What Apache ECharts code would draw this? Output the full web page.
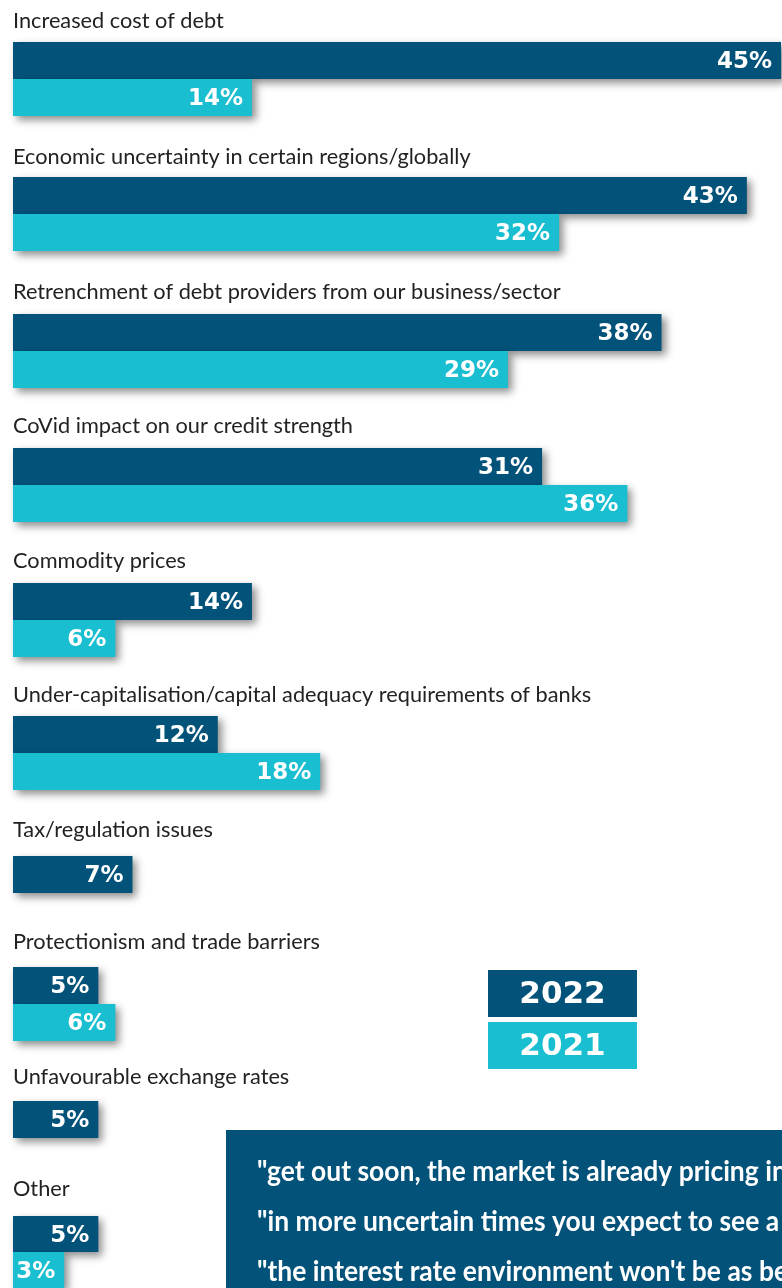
<!DOCTYPE html>
<html>
<head>
<meta charset="utf-8">
<style>
  html, body { margin: 0; padding: 0; background: #ffffff; }
  #chart { width: 782px; height: 1288px; }
</style>
<script src="https://cdn.jsdelivr.net/npm/echarts@6/dist/echarts.min.js"></script>
</head>
<body>
<div id="chart"></div>
<script>
// Survey factors and the share of respondents naming each one
const categories = [
  'Increased cost of debt',
  'Economic uncertainty in certain regions/globally',
  'Retrenchment of debt providers from our business/sector',
  'CoVid impact on our credit strength',
  'Commodity prices',
  'Under-capitalisation/capital adequacy requirements of banks',
  'Tax/regulation issues',
  'Protectionism and trade barriers',
  'Unfavourable exchange rates',
  'Other'
];
const years = ['2022', '2021'];
const values2022 = [45, 43, 38, 31, 14, 12, 7, 5, 5, 5];
const values2021 = [14, 32, 29, 36, 6, 18, null, 6, null, 3];
const quotes = [
  '"get out soon, the market is already pricing in',
  '"in more uncertain times you expect to see a',
  '"the interest rate environment won\'t be as be'
];

// Layout (pixels)
const DARK = '#02527a';
const LIGHT = '#19bed0';
const barTop = [42, 177, 314, 448, 583, 716, 856, 967, 1101, 1216];
const titleMid = [20, 156, 291, 425, 560, 694, 829, 941, 1076, 1188];
const BAND = 37;
const LEFT = 13;
const PLOT_W = 768;
const X_MAX = 45;

const grids = [], xAxes = [], yAxes = [], series = [], graphics = [];

categories.forEach((name, i) => {
  grids.push({ left: LEFT, top: barTop[i], width: PLOT_W, height: BAND * 2, containLabel: false });
  xAxes.push({ type: 'value', gridIndex: i, min: 0, max: X_MAX, show: false });
  yAxes.push({ type: 'category', gridIndex: i, data: years, inverse: true, show: false });
  series.push({
    type: 'bar',
    name: name,
    xAxisIndex: i,
    yAxisIndex: i,
    barWidth: '100%',
    silent: true,
    animation: false,
    data: [values2022[i], values2021[i]].map((v, k) => ({
      value: v,
      itemStyle: {
        color: k === 0 ? DARK : LIGHT,
        shadowColor: 'rgba(0,0,0,0.45)',
        shadowBlur: 8,
        shadowOffsetX: 4,
        shadowOffsetY: 4
      }
    })),
    label: {
      show: true,
      position: 'insideRight',
      distance: 9,
      offset: [0, 2],
      color: '#ffffff',
      fontFamily: 'DejaVu Sans',
      fontWeight: 'bold',
      fontSize: 23,
      formatter: p => p.value == null ? '' : p.value + '%'
    }
  });
  graphics.push({
    type: 'text',
    x: LEFT,
    y: titleMid[i] - 9,
    scaleX: 1.035,
    style: {
      text: name,
      fill: '#222222',
      font: '21px Lato, "Noto Sans", sans-serif'
    }
  });
});

// Year key
const keyBoxes = [
  { y: 970, color: DARK, label: years[0] },
  { y: 1022, color: LIGHT, label: years[1] }
];
keyBoxes.forEach(b => {
  graphics.push({
    type: 'rect',
    shape: { x: 488, y: b.y, width: 149, height: 47 },
    style: { fill: b.color }
  });
  graphics.push({
    type: 'text',
    x: 562.5,
    y: b.y + 25,
    style: {
      text: b.label,
      fill: '#ffffff',
      font: 'bold 31px "DejaVu Sans", sans-serif',
      textAlign: 'center',
      textVerticalAlign: 'middle'
    }
  });
});

// Quote panel
graphics.push({
  type: 'rect',
  shape: { x: 226, y: 1130, width: 600, height: 200 },
  style: { fill: DARK }
});
quotes.forEach((q, k) => {
  graphics.push({
    type: 'text',
    x: 257,
    y: 1172 + k * 50,
    scaleX: 0.945,
    style: {
      text: q,
      fill: '#ffffff',
      font: 'bold 28px Lato, "Noto Sans", sans-serif',
      textVerticalAlign: 'middle'
    }
  });
});

const chart = echarts.init(document.getElementById('chart'), null, { renderer: 'canvas' });
chart.setOption({
  animation: false,
  backgroundColor: '#ffffff',
  grid: grids,
  xAxis: xAxes,
  yAxis: yAxes,
  series: series,
  graphic: graphics
});
</script>
</body>
</html>
